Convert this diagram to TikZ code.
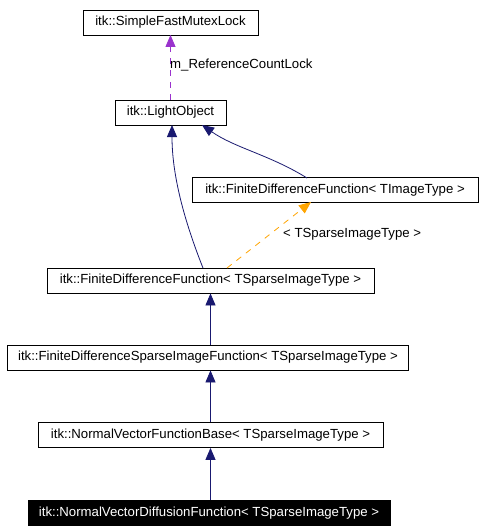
\documentclass[tikz,border=0pt]{standalone}
\usepackage{fontspec}
\setmainfont{Liberation Sans}
\usetikzlibrary{arrows.meta}
\definecolor{navyedge}{HTML}{191970}
\definecolor{purpleedge}{HTML}{9A32CD}
\definecolor{orangeedge}{HTML}{FFA500}
\tikzset{
  cls/.style={draw=black, line width=0.8pt, fill=white, inner sep=0pt, minimum height=25pt, font=\fontsize{13.2}{15}\selectfont},
  clsdark/.style={cls, fill=black, text=white},
  inh/.style={draw=navyedge, line width=0.8pt, -{Triangle[length=12pt,width=10pt]}},
  usesp/.style={draw=purpleedge, line width=0.8pt, dash pattern=on 6pt off 6pt, -{Triangle[length=12pt,width=10pt]}},
  tmpl/.style={draw=orangeedge, line width=0.8pt, dash pattern=on 6pt off 6pt, -{Triangle[length=12pt,width=10pt]}},
  lbl/.style={font=\fontsize{13.2}{15}\selectfont, inner sep=0pt, anchor=west}
}
\begin{document}
\begin{tikzpicture}[x=1pt,y=-1pt]
\useasboundingbox[fill=white] (0,0) rectangle (484,532);
\node[cls, minimum width=175pt] (mutex) at (170.5,22.5) {itk::SimpleFastMutexLock};
\node[cls, minimum width=111pt] (light) at (170.5,112.5) {itk::LightObject};
\node[cls, minimum width=286pt] (fdfimg) at (335,190) {itk::FiniteDifferenceFunction< TImageType >};
\node[cls, minimum width=327pt] (fdfsp) at (210.5,280.5) {itk::FiniteDifferenceFunction< TSparseImageType >};
\node[cls, minimum width=401pt] (sparse) at (208,357.5) {itk::FiniteDifferenceSparseImageFunction< TSparseImageType >};
\node[cls, minimum width=345pt] (nvfb) at (210.5,435) {itk::NormalVectorFunctionBase< TSparseImageType >};
\node[clsdark, minimum width=362pt] (nvdf) at (209,513) {itk::NormalVectorDiffusionFunction< TSparseImageType >};

\coordinate (lightTop) at (170.5,100);
\coordinate (mutexBot) at (170.5,35);
\draw[usesp] (lightTop) -- (mutexBot);
\node[lbl] (lblA) at (170,65) {m\_ReferenceCountLock};

\coordinate (fdfspA) at (203,268);
\coordinate (lightBotA) at (172,125);
\draw[inh] (fdfspA) .. controls (184,220) and (172,175) .. (lightBotA);

\coordinate (fdfimgA) at (307,178);
\coordinate (lightBotB) at (202,125);
\draw[inh] (fdfimgA) .. controls (270,155) and (235,148) .. (lightBotB);

\coordinate (fdfspB) at (227,268);
\coordinate (fdfimgB) at (311,202);
\draw[tmpl] (fdfspB) -- (fdfimgB);
\node[lbl] (lblB) at (283,234) {< TSparseImageType >};

\draw[inh] (sparse.north -| 210.5,0) -- (fdfsp.south -| 210.5,0);
\draw[inh] (nvfb.north -| 210.5,0) -- (sparse.south -| 210.5,0);
\draw[inh] (nvdf.north -| 210.5,0) -- (nvfb.south -| 210.5,0);
\end{tikzpicture}
\end{document}
